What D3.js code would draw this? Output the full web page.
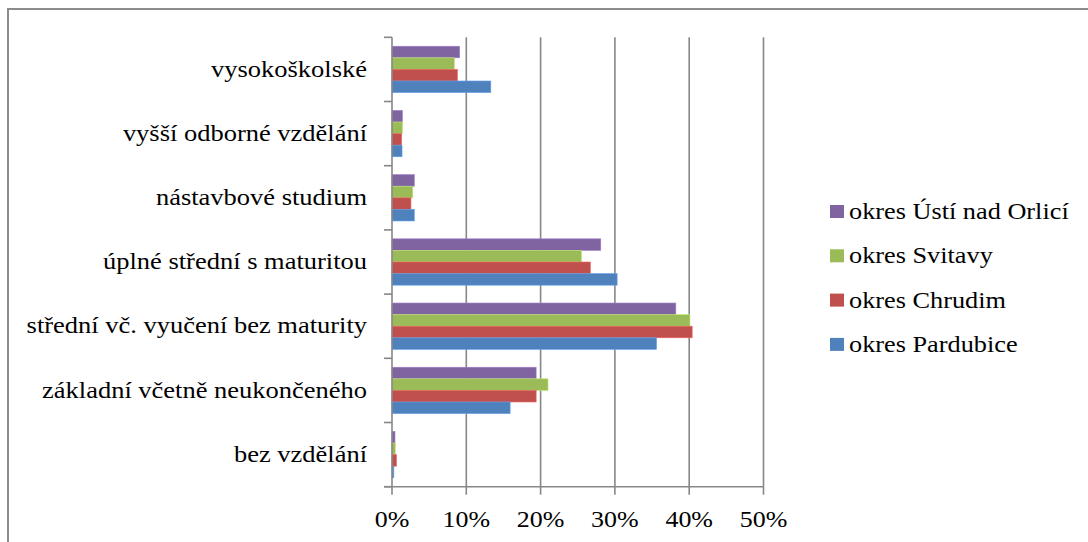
<!DOCTYPE html>
<html>
<head>
<meta charset="utf-8">
<script src="https://cdn.jsdelivr.net/npm/d3@7"></script>
<style>
  html, body { margin: 0; padding: 0; background: #fff; }
  svg { display: block; }
</style>
</head>
<body>
<svg id="chart" width="1088" height="542"></svg>
<script>
const categories = [
  "vysokoškolské",
  "vyšší odborné vzdělání",
  "nástavbové studium",
  "úplné střední s maturitou",
  "střední vč. vyučení bez maturity",
  "základní včetně neukončeného",
  "bez vzdělání"
];
const seriesNames = ["okres Ústí nad Orlicí", "okres Svitavy", "okres Chrudim", "okres Pardubice"];
const seriesColors = ["#8064A2", "#9BBB59", "#C0504D", "#4F81BD"];
const usti      = [9.1, 1.4, 3.0, 28.1, 38.2, 19.4, 0.4];
const svitavy   = [8.4, 1.4, 2.8, 25.5, 40.1, 21.0, 0.45];
const chrudim   = [8.8, 1.3, 2.55, 26.7, 40.4, 19.4, 0.6];
const pardubice = [13.3, 1.35, 3.0, 30.3, 35.6, 15.9, 0.25];
const seriesValues = [usti, svitavy, chrudim, pardubice];
const tickValues = [0, 10, 20, 30, 40, 50];

const FONT = "Liberation Serif";
const svg = d3.select("#chart");
const pLeft = 392, pRight = 763.5, pTop = 37.3, pBottom = 486.7;

// outer frame
svg.append("path")
  .attr("d", `M8,542 L8,9 L1088,9`)
  .attr("fill", "none").attr("stroke", "#8c8c8c").attr("stroke-width", 2);

const x = d3.scaleLinear().domain([0, 50]).range([pLeft, pRight]);
const y0 = d3.scaleBand().domain(categories).range([pTop, pBottom]).padding(0);
const y1 = d3.scaleBand().domain(seriesNames).range([0, y0.bandwidth()])
  .paddingInner(0).paddingOuter(0.77);

// gridlines
svg.append("g").selectAll("line").data(tickValues.filter(d => d > 0)).join("line")
  .attr("x1", d => x(d)).attr("x2", d => x(d))
  .attr("y1", pTop).attr("y2", pBottom)
  .attr("stroke", "#878787").attr("stroke-width", 1.6);

// bars
const rows = [];
categories.forEach((c, i) => {
  seriesNames.forEach((s, j) => rows.push({ c, s, j, v: seriesValues[j][i] }));
});
svg.append("g").selectAll("rect").data(rows).join("rect")
  .attr("x", x(0))
  .attr("y", d => y0(d.c) + y1(d.s))
  .attr("width", d => x(d.v) - x(0))
  .attr("height", y1.bandwidth())
  .attr("fill", d => seriesColors[d.j])
  .attr("stroke", d => d3.color(seriesColors[d.j]).brighter(0.6))
  .attr("stroke-width", 0.6);

// y axis line + ticks at band boundaries
const boundaries = categories.map(c => y0(c)).concat([pBottom]);
svg.append("line").attr("x1", pLeft).attr("x2", pLeft).attr("y1", pTop).attr("y2", pBottom)
  .attr("stroke", "#878787").attr("stroke-width", 1.6);
svg.append("g").selectAll("line").data(boundaries).join("line")
  .attr("x1", pLeft - 8).attr("x2", pLeft).attr("y1", d => d).attr("y2", d => d)
  .attr("stroke", "#878787").attr("stroke-width", 1.6);

// x axis line + ticks
svg.append("line").attr("x1", pLeft - 8).attr("x2", pRight).attr("y1", pBottom).attr("y2", pBottom)
  .attr("stroke", "#878787").attr("stroke-width", 1.6);
svg.append("g").selectAll("line").data(tickValues).join("line")
  .attr("x1", d => x(d)).attr("x2", d => x(d)).attr("y1", pBottom).attr("y2", pBottom + 8)
  .attr("stroke", "#878787").attr("stroke-width", 1.6);

const sy = 0.9;
// x tick labels
svg.append("g").selectAll("text").data(tickValues).join("text")
  .attr("transform", d => `translate(${x(d)},526.5) scale(1,${sy})`)
  .attr("text-anchor", "middle").attr("font-size", 26)
  .attr("font-family", FONT).attr("fill", "#000")
  .text(d => d + "%");

// category labels
svg.append("g").selectAll("text").data(categories).join("text")
  .attr("transform", d => `translate(367,${y0(d) + y0.bandwidth() / 2 + 7.2}) scale(1,${sy})`)
  .attr("text-anchor", "end").attr("font-size", 26.5)
  .attr("font-family", FONT).attr("fill", "#000")
  .text(d => d);

// legend
const lg = svg.append("g").selectAll("g").data(seriesNames).join("g")
  .attr("transform", (d, i) => `translate(830,${205 + i * 44.3})`);
lg.append("rect").attr("width", 14).attr("height", 13)
  .attr("fill", (d, i) => seriesColors[i]);
lg.append("text")
  .attr("transform", `translate(19,14) scale(1,${sy})`)
  .attr("font-size", 26.3)
  .attr("font-family", FONT).attr("fill", "#000")
  .text(d => d);
</script>
</body>
</html>
